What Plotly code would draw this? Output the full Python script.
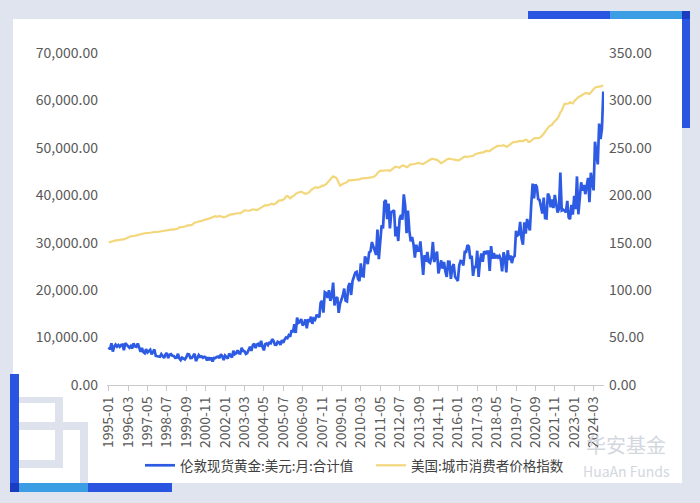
import plotly.graph_objects as go
import pandas as pd

months = [p.strftime("%Y-%m") for p in pd.period_range("1995-01", "2024-10", freq="M")]

gold_sum = [
    7959, 7520, 8786, 7038, 8085, 8514, 8106, 8426, 8043, 8426, 8492, 7353,
    8800, 8505, 8316, 7860, 8232, 7700, 8809, 8127, 8043, 8763, 7938, 7011,
    7810, 6940, 6688, 7568, 6880, 7161, 7452, 6480, 7106, 7475, 6120, 6069,
    6069, 5940, 6512, 6160, 5681, 6424, 6739, 5680, 6358, 6512, 6174, 6111,
    5740, 5760, 6578, 5640, 5263, 5764, 5632, 5397, 5830, 6531, 6446, 5660,
    5680, 6300, 6578, 5040, 5775, 6292, 5922, 6028, 5733, 5940, 5852, 5168,
    5852, 5240, 5786, 4959, 5712, 5670, 5896, 6006, 5660, 6509, 6072, 5244,
    6204, 5920, 5586, 6644, 6280, 5796, 7222, 6510, 6699, 7291, 6699, 6660,
    7854, 7180, 7140, 6560, 6745, 7476, 8073, 7200, 8338, 8717, 7780, 8547,
    8694, 8100, 9338, 8080, 7296, 8624, 8756, 8400, 8932, 8820, 9658, 9282,
    8480, 8460, 9114, 9009, 8440, 9460, 8904, 9614, 10032, 9870, 10472, 10200,
    11529, 11100, 12811, 10980, 14196, 13112, 13293, 13904, 12558, 12892, 13816, 11951,
    13882, 13300, 14410, 12901, 14007, 13755, 14652, 14630, 14240, 17342, 17732, 15257,
    19558, 19362, 18392, 19998, 17760, 18690, 21597, 16780, 18238, 18538, 15200, 17136,
    18018, 18860, 20328, 17800, 17632, 20790, 21482, 18980, 21912, 22946, 23667, 23835,
    22360, 21900, 25622, 22980, 22914, 27126, 26246, 25515, 27962, 28203, 30140, 29211,
    28476, 27440, 32752, 26532, 30200, 33638, 33033, 38632, 38984, 34965, 38258, 33040,
    36432, 36582, 36850, 31331, 33369, 30362, 35068, 35860, 34880, 40181, 37884, 31996,
    36762, 32540, 30267, 31185, 29694, 26860, 29578, 28287, 28329, 30268, 26775, 23199,
    27368, 26000, 28056, 25980, 25740, 26859, 30153, 25920, 27258, 28106, 23520, 25200,
    26271, 24540, 25938, 23960, 22781, 25982, 25967, 22360, 24750, 25498, 22827, 22428,
    21940, 25200, 26166, 26082, 25200, 28072, 28077, 29502, 29172, 26607, 27236, 23020,
    25032, 24680, 28313, 22788, 26166, 27720, 25977, 28226, 27615, 28160, 28182, 24035,
    29282, 26620, 27825, 26700, 27384, 26901, 27236, 26444, 23960, 27945, 26862, 23750,
    28402, 26400, 27300, 25700, 26964, 27180, 32499, 31500, 31710, 34385, 30891, 29600,
    34320, 31940, 35002, 33660, 32604, 38104, 42481, 39360, 42284, 41800, 39186, 39018,
    37340, 36160, 39514, 35200, 35150, 40348, 39754, 37485, 39094, 37317, 40062, 37590,
    36340, 37120, 44804, 36803, 36980, 36740, 36393, 38830, 35301, 34965, 37972, 35940,
    39858, 37100, 43976, 36000, 39840, 42746, 40971, 42196, 40236, 42152, 43670, 38570,
    44748, 42504, 41040, 51282, 49392, 46520, 55108, 51870, 53991, 61870,
]

cpi = [
    150.3, 150.9, 151.4, 151.9, 152.2, 152.5, 152.5, 152.9, 153.2, 153.7, 153.6, 153.5,
    154.4, 154.9, 155.7, 156.3, 156.6, 156.7, 157.0, 157.3, 157.8, 158.3, 158.6, 158.6,
    159.1, 159.6, 160.0, 160.2, 160.1, 160.3, 160.5, 160.8, 161.2, 161.6, 161.5, 161.3,
    161.6, 161.9, 162.2, 162.5, 162.8, 163.0, 163.2, 163.4, 163.6, 164.0, 164.0, 163.9,
    164.3, 164.5, 165.0, 166.2, 166.2, 166.2, 166.7, 167.1, 167.9, 168.2, 168.3, 168.3,
    168.8, 169.8, 171.2, 171.3, 171.5, 172.4, 172.8, 172.8, 173.7, 174.0, 174.1, 174.0,
    175.1, 175.8, 176.2, 176.9, 177.7, 178.0, 177.5, 177.5, 178.3, 177.7, 177.4, 176.7,
    177.1, 177.8, 178.8, 179.8, 179.8, 179.9, 180.1, 180.7, 181.0, 181.3, 181.3, 180.9,
    181.7, 183.1, 184.2, 183.8, 183.5, 183.7, 183.9, 184.6, 185.2, 185.0, 184.5, 184.3,
    185.2, 186.2, 187.4, 188.0, 189.1, 189.7, 189.4, 189.5, 189.9, 190.9, 191.0, 190.3,
    190.7, 191.8, 193.3, 194.6, 194.4, 194.5, 195.4, 196.4, 198.8, 199.2, 197.6, 196.8,
    198.3, 198.7, 199.8, 201.5, 202.5, 202.9, 203.5, 203.9, 202.9, 201.8, 201.5, 201.8,
    202.4, 203.5, 205.4, 206.7, 207.9, 208.4, 208.3, 207.9, 208.5, 208.9, 210.2, 210.0,
    211.1, 211.7, 213.5, 214.8, 216.6, 218.8, 220.0, 219.1, 218.8, 216.6, 212.4, 210.2,
    211.1, 212.2, 212.7, 213.2, 213.9, 215.7, 215.4, 215.8, 216.0, 216.2, 216.3, 215.9,
    216.7, 216.7, 217.6, 218.0, 218.2, 218.0, 218.0, 218.3, 218.4, 218.7, 218.8, 219.2,
    220.2, 221.3, 223.5, 224.9, 226.0, 225.7, 225.9, 226.5, 226.9, 226.4, 226.2, 225.7,
    226.7, 227.7, 229.4, 230.1, 229.8, 229.5, 229.1, 230.4, 231.4, 231.3, 230.2, 229.6,
    230.3, 232.2, 232.8, 232.5, 232.9, 233.5, 233.6, 233.9, 234.1, 233.5, 233.1, 233.0,
    233.9, 234.8, 236.3, 237.1, 237.9, 238.3, 238.3, 237.9, 238.0, 237.4, 236.2, 234.8,
    233.7, 234.7, 236.1, 236.6, 237.8, 238.6, 238.7, 238.3, 237.9, 237.8, 237.3, 236.5,
    236.9, 237.1, 238.1, 239.3, 240.2, 241.0, 240.6, 240.8, 241.4, 241.7, 241.4, 241.4,
    242.8, 243.6, 243.8, 244.5, 244.7, 245.0, 244.8, 245.5, 246.8, 246.7, 246.7, 246.5,
    247.9, 249.0, 249.6, 250.5, 251.6, 252.0, 252.0, 252.1, 252.4, 252.9, 252.0, 251.2,
    251.7, 252.8, 254.2, 255.5, 256.1, 256.1, 256.6, 256.6, 256.8, 257.3, 257.2, 257.0,
    258.0, 258.7, 258.1, 256.4, 256.4, 257.8, 259.1, 259.9, 260.3, 260.4, 260.2, 260.5,
    261.6, 263.0, 264.9, 267.1, 269.2, 271.7, 273.0, 273.6, 274.3, 276.6, 277.9, 278.8,
    281.1, 283.7, 287.5, 289.1, 292.3, 296.3, 296.3, 296.2, 296.8, 298.0, 297.7, 296.8,
    299.2, 300.8, 301.8, 303.4, 304.1, 305.1, 305.7, 307.0, 307.8, 307.7, 307.1, 306.7,
    308.4, 310.3, 312.3, 313.5, 314.1, 314.2, 314.5, 314.8, 315.3, 315.7,
]

series_names = ["伦敦现货黄金:美元:月:合计值", "美国:城市消费者价格指数"]
tick_step = 14
tick_vals = months[::tick_step]

FONT = "Noto Sans CJK SC, Noto Sans, sans-serif"
W, H = 700, 503
L, R, T, B = 107, 604, 53, 385
PW, PH = R - L, B - T


def px(x):
    return (x - L) / PW


def py(y):
    return (B - y) / PH


def rect(x0, y0, x1, y1, color, layer="below"):
    return dict(type="rect", xref="paper", yref="paper",
                x0=px(x0), x1=px(x1), y0=py(y1), y1=py(y0),
                fillcolor=color, line=dict(width=0), layer=layer)


fig = go.Figure()
fig.add_trace(go.Scatter(x=months, y=gold_sum, name=series_names[0], mode="lines",
                         line=dict(color="#2d5be3", width=2.7), yaxis="y"))
fig.add_trace(go.Scatter(x=months, y=cpi, name=series_names[1], mode="lines",
                         line=dict(color="#f3d77c", width=2.2), yaxis="y2"))

gray = "#dde2ec"
blue = "#2a55e0"
light = "#3b9de3"
navy = "#1c3cc0"
shapes = [
    rect(13, 19, 682, 483, "white"),
    # watermark blocks bottom-left
    rect(19, 397, 63, 403, gray),
    rect(55, 397, 63, 468, gray),
    rect(19, 422, 88, 430, gray),
    rect(80, 422, 88, 483, gray),
    rect(19, 460, 63, 468, gray),
    # top-right bars
    rect(528, 11, 610, 19, blue, "above"),
    rect(610, 11, 682, 19, light, "above"),
    rect(682, 11, 690, 128, blue, "above"),
    rect(682, 11, 690, 19, navy, "above"),
    # bottom-left bars
    rect(10, 374, 19, 492, blue, "above"),
    rect(19, 483, 88, 492, light, "above"),
    rect(88, 483, 172, 492, blue, "above"),
    rect(10, 483, 19, 492, navy, "above"),
]

annotations = [
    dict(text="华安基金", x=px(626), y=py(460), xref="paper", yref="paper",
         showarrow=False, font=dict(family=FONT, size=20, color="#d3d7de"),
         xanchor="center", yanchor="bottom", borderpad=0),
    dict(text="HuaAn Funds", x=px(626), y=py(460), xref="paper", yref="paper",
         showarrow=False, font=dict(family=FONT, size=14, color="#d3d7de"),
         xanchor="center", yanchor="top", borderpad=0),
]

fig.update_layout(
    width=W, height=H,
    margin=dict(l=L, r=W - R, t=T, b=H - B),
    paper_bgcolor="#dfe4ee",
    plot_bgcolor="rgba(0,0,0,0)",
    font=dict(family=FONT, size=14, color="#595959"),
    shapes=shapes,
    annotations=annotations,
    showlegend=True,
    legend=dict(orientation="h", x=px(140), y=py(450), xanchor="left", yanchor="top",
                font=dict(family=FONT, size=13.5, color="#404040"),
                bgcolor="rgba(0,0,0,0)", itemwidth=30, tracegroupgap=0,
                entrywidth=186, entrywidthmode="pixels"),
    xaxis=dict(type="category", tickmode="array", tickvals=tick_vals, ticktext=tick_vals,
               tickangle=-90, showgrid=False, showline=True, linecolor="#c8c8c8",
               ticks="outside", ticklen=5, tickcolor="#c8c8c8",
               tickfont=dict(size=14, color="#595959"),
               range=[-1.2, len(months) - 0.5]),
    yaxis=dict(range=[0, 70000], tickvals=[0, 10000, 20000, 30000, 40000, 50000, 60000, 70000],
               tickformat=",.2f", showgrid=False, zeroline=False, showline=False,
               ticklabelstandoff=8,
               tickfont=dict(size=14, color="#595959")),
    yaxis2=dict(range=[0, 350], tickvals=[0, 50, 100, 150, 200, 250, 300, 350],
                tickformat=".2f", overlaying="y", side="right", showgrid=False,
                zeroline=False, showline=False, ticklabelstandoff=4,
                tickfont=dict(size=14, color="#595959")),
)

fig.write_html("out.html", config={"displayModeBar": False},
               post_script="document.body.style.margin='0';document.body.style.background='#dfe4ee';")
